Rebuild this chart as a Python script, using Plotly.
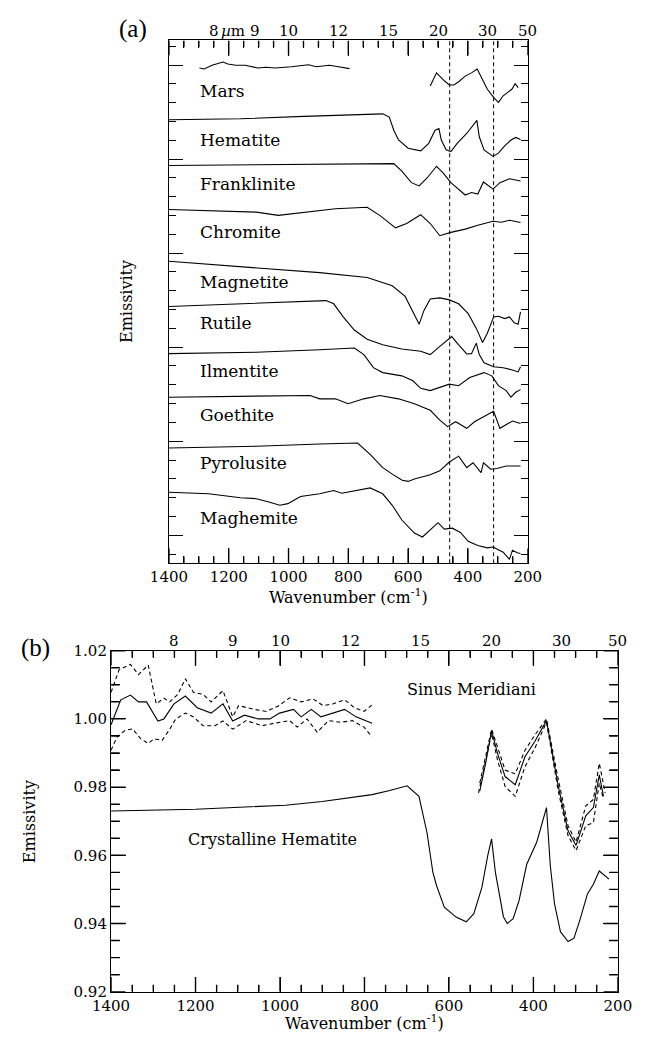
import numpy as np
import plotly.graph_objects as go

# ======================= DATA =======================
# ---- Panel (a): stacked spectra (arbitrary offset units; 0 = bottom of frame) ----
mars1_wn = [1298, 1282, 1256, 1219, 1203, 1177, 1145, 1118, 1103, 1076, 1044, 991, 949, 933, 907, 864, 833, 796]
mars1_v = [504, 503, 506.7, 510, 508, 506.7, 506.7, 505.3, 504, 504.7, 504, 505.3, 506.7, 507.3, 505.3, 506.7, 505.3, 503.3]
mars2_wn = [526, 505, 478, 462, 447, 431, 409, 388, 369, 356, 335, 314, 298, 282, 267, 253, 242, 232]
mars2_v = [485.7, 499, 490.7, 486.7, 486.7, 490, 495.7, 499, 503, 495.7, 482.3, 474, 469, 475.7, 479, 482.3, 488, 484]

hematite_wn = [1400, 1161, 949, 780, 685, 663, 648, 632, 600, 558, 531, 510, 497, 489, 473, 457, 436, 404, 370, 362, 346, 316, 298, 277, 256, 240, 224]
hematite_v = [451.3, 452.3, 454.7, 456.7, 457.3, 454, 440.7, 430.7, 422.3, 419.7, 427.3, 440.7, 442.3, 430.7, 420.7, 419, 427.3, 437.3, 450.7, 434, 420.7, 414, 417.3, 424.7, 430.7, 433.3, 431.3]

franklinite_wn = [1400, 1002, 790, 648, 621, 589, 563, 536, 505, 483, 457, 409, 388, 367, 348, 335, 316, 293, 261, 224]
franklinite_v = [404.7, 405.7, 406.7, 406.7, 399, 387.3, 384, 392.3, 404, 397.3, 387.3, 374.7, 377.3, 375.7, 388, 384.7, 380.7, 387.3, 391.3, 389]

chromite_wn = [1400, 1267, 1108, 1034, 949, 843, 737, 695, 642, 605, 558, 526, 494, 457, 409, 367, 316, 288, 261, 240, 224]
chromite_v = [360, 359, 357.3, 354, 356.7, 360.7, 362.3, 354, 341.3, 345.7, 354.7, 345.7, 333.3, 336.7, 340, 344, 348, 347, 349, 347.3, 346.7]

magnetite_wn = [1400, 1108, 896, 737, 653, 610, 584, 563, 547, 526, 494, 462, 431, 399, 372, 351, 335, 314, 298, 277, 261, 245, 232, 224]
magnetite_v = [307.3, 300.7, 295.7, 290.7, 282.3, 271.5, 255.7, 243.3, 257.3, 269, 270, 268, 264, 254, 239, 224.7, 234, 250.7, 251.3, 249, 250.7, 244.7, 243.3, 255.7]

rutile_wn = [1400, 1108, 875, 849, 817, 780, 737, 685, 621, 558, 526, 494, 454, 431, 404, 388, 372, 362, 346, 314, 282, 251, 232, 224]
rutile_v = [261.3, 264.7, 267.3, 264, 250.7, 237.3, 228, 222.3, 218, 215.7, 212.3, 220.7, 230.7, 222.3, 213, 213.3, 224, 212.3, 204, 200, 199, 196.7, 194.7, 200]

ilmenite_wn = [1400, 1108, 896, 780, 748, 716, 685, 621, 584, 558, 526, 494, 462, 431, 394, 346, 320, 298, 272, 256, 240, 224]
ilmenite_v = [213.3, 214.7, 217.3, 219, 212.3, 199, 194, 190.7, 185.7, 178, 175.7, 179, 182.3, 180.7, 189, 194, 190.7, 180.7, 175.7, 169, 174, 176.7]

goethite_wn = [1400, 1108, 928, 896, 843, 801, 748, 695, 632, 579, 526, 494, 468, 441, 404, 378, 346, 314, 293, 272, 251, 224]
goethite_v = [169, 170, 170.7, 167.3, 167.3, 162.3, 167.3, 170.7, 167.3, 162.3, 155.7, 145.7, 139, 144, 137.3, 144, 149, 154.7, 137.3, 140.7, 144.7, 142.3]

pyrolusite_wn = [1400, 1108, 896, 769, 727, 685, 653, 620, 600, 579, 526, 494, 462, 431, 404, 383, 356, 348, 324, 303, 272, 224]
pyrolusite_v = [117.3, 119, 121.3, 122.3, 110.7, 97.3, 90.7, 84.5, 83.3, 85.7, 90, 94, 103, 109, 97.3, 102.3, 92.3, 102.3, 95.7, 96.5, 99, 99]

maghemite_wn = [1400, 1320, 1267, 1161, 1108, 1066, 1029, 1002, 960, 896, 849, 822, 769, 727, 685, 653, 621, 579, 552, 526, 500, 479, 452, 425, 399, 367, 335, 316, 282, 261, 251, 235, 224]
maghemite_v = [72.3, 71.3, 70.7, 66.7, 65.7, 62.3, 59, 60.7, 68, 70.7, 74, 71.3, 74.7, 76.7, 70.7, 59, 44, 30.7, 26.7, 34, 41.3, 34.7, 35.7, 31.3, 22.3, 18, 15.7, 16.5, 11.3, 4, 13.3, 10.7, 10]

mineral_names = ["Mars", "Hematite", "Franklinite", "Chromite", "Magnetite",
                 "Rutile", "Ilmentite", "Goethite", "Pyrolusite", "Maghemite"]
mineral_label_v = [481, 431, 386, 337, 286, 244, 196, 151, 102, 46]
label_wn = 1302
band_lines_wn = [461, 314]

# ---- Panel (b): Sinus Meridiani (mean and +/- 1 sigma) and crystalline hematite ----
sm_l_mean_wn = [1400, 1377, 1354, 1335, 1316, 1289, 1275, 1251, 1224, 1196, 1163, 1135, 1112, 1084, 1052, 1024, 1001, 968, 950, 926, 903, 875, 847, 820, 782]
sm_l_mean = [0.9983, 1.0056, 1.007, 1.005, 1.005, 0.9994, 1.0, 1.0044, 1.0067, 1.0033, 1.0017, 1.0044, 0.9994, 1.0011, 1.0, 1.0, 1.0017, 1.0028, 1.0006, 1.0028, 1.0006, 1.0017, 1.0028, 1.0006, 0.9987]
sm_l_hi_wn = [1400, 1381, 1354, 1335, 1312, 1293, 1275, 1261, 1242, 1224, 1205, 1182, 1163, 1135, 1112, 1098, 1061, 1033, 1005, 977, 950, 922, 898, 875, 847, 824, 801, 782]
sm_l_hi = [1.0078, 1.0144, 1.0160, 1.0130, 1.0158, 1.0044, 1.0061, 1.005, 1.0072, 1.0118, 1.0078, 1.0072, 1.005, 1.0083, 1.0006, 1.0039, 1.0028, 1.0022, 1.0037, 1.0062, 1.005, 1.0059, 1.0039, 1.0044, 1.0056, 1.0033, 1.0022, 1.0041]
sm_l_lo_wn = [1400, 1386, 1367, 1349, 1330, 1312, 1298, 1279, 1261, 1247, 1224, 1205, 1182, 1154, 1135, 1112, 1080, 1042, 1015, 977, 959, 936, 912, 885, 857, 829, 801, 782]
sm_l_lo = [0.9908, 0.9947, 0.9966, 0.9971, 0.9942, 0.9928, 0.9942, 0.9937, 0.997, 1.0, 1.0017, 1.0006, 0.998, 0.998, 0.9994, 0.997, 0.9995, 0.998, 0.9987, 0.9995, 0.9976, 1.0, 0.9961, 0.9995, 0.999, 0.9995, 0.9976, 0.9947]

sm_r_mean_wn = [527, 513, 499, 485, 467, 443, 420, 397, 369, 341, 318, 299, 276, 258, 244, 234]
sm_r_mean = [0.9788, 0.987, 0.9966, 0.9899, 0.9831, 0.9807, 0.9889, 0.9933, 0.9995, 0.9802, 0.9672, 0.9629, 0.9716, 0.974, 0.9836, 0.9773]
sm_r_hi_wn = [527, 499, 485, 467, 443, 420, 397, 369, 341, 318, 299, 276, 258, 244, 230]
sm_r_hi = [0.9812, 0.997, 0.9918, 0.985, 0.9839, 0.9908, 0.9952, 1.0, 0.9822, 0.9687, 0.9639, 0.9745, 0.9764, 0.987, 0.9783]
sm_r_lo_wn = [530, 499, 485, 467, 443, 420, 397, 369, 341, 318, 299, 276, 258, 244, 234]
sm_r_lo = [0.9783, 0.9957, 0.988, 0.9802, 0.9773, 0.986, 0.9913, 0.999, 0.9788, 0.9658, 0.9614, 0.9687, 0.9696, 0.9812, 0.9764]

hem_b_wn = [1400, 1200, 987, 900, 782, 740, 699, 671, 652, 638, 629, 611, 583, 559, 541, 522, 508, 499, 490, 480, 471, 462, 448, 434, 416, 392, 369, 360, 350, 336, 318, 304, 290, 272, 258, 244, 230, 221]
hem_b_v = [0.973, 0.9735, 0.9747, 0.9758, 0.9778, 0.979, 0.9804, 0.9773, 0.9667, 0.955, 0.951, 0.9448, 0.9419, 0.9405, 0.9429, 0.9506, 0.96, 0.9648, 0.955, 0.9487, 0.942, 0.940, 0.9414, 0.9467, 0.9573, 0.9639, 0.974, 0.957, 0.9458, 0.9376, 0.9347, 0.9357, 0.941, 0.9487, 0.9515, 0.9554, 0.954, 0.953]

# Top axis: wavelength (micron) labels
top_um = [8, 9, 10, 12, 15, 20, 30, 50]

# Axis ticks
x_major = [1400, 1200, 1000, 800, 600, 400, 200]
x_minor_step = 50
y_b_major = [0.92, 0.94, 0.96, 0.98, 1.00, 1.02]
y_b_minor_step = 0.005

# ======================= FIGURE =======================
SERIF = "DejaVu Serif"
TIMES = "Liberation Serif"
BLACK = "#000000"
W, H = 648, 1042

# geometry (pixels)
ax_l, ax_r, ax_t, ax_b = 158, 536, 32, 564
bx_l, bx_r, bx_t, bx_b = 97, 631, 653, 1000
A_YR = [0, 532]
B_YR = [0.92, 1.02]
XR = [1400, 200]

fig = go.Figure()


def add_line(x, y, xa, ya, dash="solid", width=1.1):
    fig.add_trace(go.Scatter(x=x, y=y, mode="lines", xaxis=xa, yaxis=ya,
                             line=dict(color=BLACK, width=width, dash=dash),
                             hoverinfo="skip", showlegend=False, cliponaxis=False))


# panel (a)
for xs, ys in [(mars1_wn, mars1_v), (mars2_wn, mars2_v), (hematite_wn, hematite_v),
               (franklinite_wn, franklinite_v), (chromite_wn, chromite_v),
               (magnetite_wn, magnetite_v), (rutile_wn, rutile_v),
               (ilmenite_wn, ilmenite_v), (goethite_wn, goethite_v),
               (pyrolusite_wn, pyrolusite_v), (maghemite_wn, maghemite_v)]:
    add_line(xs, ys, "x", "y")

# panel (b)
DASH = "4px,3px"
add_line(sm_l_hi_wn, sm_l_hi, "x2", "y2", DASH)
add_line(sm_l_lo_wn, sm_l_lo, "x2", "y2", DASH)
add_line(sm_l_mean_wn, sm_l_mean, "x2", "y2")
add_line(sm_r_hi_wn, sm_r_hi, "x2", "y2", DASH)
add_line(sm_r_lo_wn, sm_r_lo, "x2", "y2", DASH)
add_line(sm_r_mean_wn, sm_r_mean, "x2", "y2")
add_line(hem_b_wn, hem_b_v, "x2", "y2")


# ---- tick marks, built from the tick lists as line traces ----
def x_tick_trace(xa, ya, yr, height_px):
    minor = [float(v) for v in np.arange(200, 1400.1, x_minor_step) if v not in x_major]
    span = yr[1] - yr[0]
    xs, ys = [], []
    for vals, length in [(x_major, 15), (minor, 7)]:
        d = length / height_px * span
        for v in vals:
            xs += [v, v, None, v, v, None]
            ys += [yr[0], yr[0] + d, None, yr[1] - d, yr[1], None]
    add_line(xs, ys, xa, ya, width=1.4)


def y_tick_trace(xa, ya, xr, width_px, major, step, lo, hi, maj_len, min_len):
    minor = [float(v) for v in np.arange(lo, hi + step / 2, step)
             if all(abs(v - m) > step / 10 for m in major)]
    span = xr[1] - xr[0]
    xs, ys = [], []
    for vals, length in [(major, maj_len), (minor, min_len)]:
        d = length / width_px * span
        for v in vals:
            xs += [xr[0], xr[0] + d, None, xr[1] - d, xr[1], None]
            ys += [v, v, None, v, v, None]
    add_line(xs, ys, xa, ya, width=1.4)


x_tick_trace("x", "y", A_YR, ax_b - ax_t)
x_tick_trace("x2", "y2", B_YR, bx_b - bx_t)
y_tick_trace("x2", "y2", XR, bx_r - bx_l, y_b_major, y_b_minor_step, 0.92, 1.02, 15, 9)

shapes = []
# dashed band lines in (a)
for wn in band_lines_wn:
    shapes.append(dict(type="line", xref="x", yref="y domain", x0=wn, x1=wn, y0=0, y1=1,
                       line=dict(color=BLACK, width=1, dash="4px,3px")))

tickfont = dict(family=SERIF, size=15, color=BLACK)


def xaxis_cfg(dom, anchor):
    return dict(domain=dom, anchor=anchor, range=XR, tickmode="linear", tick0=200,
                dtick=200, ticks="inside", ticklen=15, tickwidth=1.2, tickcolor=BLACK,
                showline=True, linecolor=BLACK, linewidth=1.2, mirror="allticks",
                showgrid=False, zeroline=False, tickfont=tickfont,
                minor=dict(ticks="inside", ticklen=7, dtick=50, tick0=0,
                           tickcolor=BLACK, showgrid=False))


fig.update_layout(
    width=W, height=H, margin=dict(l=0, r=0, t=0, b=0), autosize=False,
    paper_bgcolor="white", plot_bgcolor="white", showlegend=False,
    xaxis=xaxis_cfg([ax_l / W, ax_r / W], "y"),
    yaxis=dict(domain=[1 - ax_b / H, 1 - ax_t / H], anchor="x", range=A_YR,
               showticklabels=False, tickmode="linear", ticks="inside", tick0=28.5,
               dtick=95.7, ticklen=14, tickwidth=1.2, tickcolor=BLACK, showline=True,
               linecolor=BLACK, linewidth=1.2, mirror="allticks", showgrid=False,
               zeroline=False,
               minor=dict(ticks="inside", ticklen=7, dtick=19.14, tick0=9.36,
                          tickcolor=BLACK, showgrid=False)),
    xaxis2=xaxis_cfg([bx_l / W, bx_r / W], "y2"),
    yaxis2=dict(domain=[1 - bx_b / H, 1 - bx_t / H], anchor="x2", range=B_YR,
                tickmode="linear", tick0=0.92, dtick=0.02, tickformat=".2f",
                ticks="inside", ticklen=15, tickwidth=1.2, tickcolor=BLACK,
                showline=True, linecolor=BLACK, linewidth=1.2, mirror="allticks",
                showgrid=False, zeroline=False, tickfont=tickfont,
                minor=dict(ticks="inside", ticklen=9, dtick=0.005, tick0=0.92,
                           tickcolor=BLACK, showgrid=False)),
    shapes=shapes,
)

C = dict(xanchor="center", yanchor="middle", showarrow=False)
ann = []
# top (micron) axis labels
for um in top_um:
    ann.append(dict(text=str(um), x=10000.0 / um, y=1 - 22 / H, xref="x", yref="paper",
                    font=tickfont, **C))
    ann.append(dict(text=str(um), x=10000.0 / um, y=1 - 643 / H, xref="x2", yref="paper",
                    font=tickfont, **C))
# micron unit in (a)
ann.append(dict(text="<i>µ</i>m", x=1186, y=1 - 22 / H, xref="x", yref="paper",
                font=dict(family=SERIF, size=15, color=BLACK), **C))
# panel letters
ann.append(dict(text="(a)", x=120 / W, y=1 - 20 / H, xref="paper", yref="paper",
                font=dict(family=TIMES, size=25, color=BLACK), **C))
ann.append(dict(text="(b)", x=17 / W, y=1 - 650 / H, xref="paper", yref="paper",
                font=dict(family=TIMES, size=25, color=BLACK), **C))
# axis titles
ann.append(dict(text="Wavenumber (cm<sup>-1</sup>)", x=(ax_l + ax_r) / 2 / W, y=1 - 598 / H,
                xref="paper", yref="paper", font=dict(family=SERIF, size=16, color=BLACK), **C))
ann.append(dict(text="Wavenumber (cm<sup>-1</sup>)", x=(bx_l + bx_r) / 2 / W, y=1 - 1031 / H,
                xref="paper", yref="paper", font=dict(family=SERIF, size=16, color=BLACK), **C))
ann.append(dict(text="Emissivity", x=114 / W, y=1 - 298 / H, xref="paper", yref="paper",
                textangle=-90, font=dict(family=SERIF, size=16, color=BLACK), **C))
ann.append(dict(text="Emissivity", x=11 / W, y=1 - 827 / H, xref="paper", yref="paper",
                textangle=-90, font=dict(family=SERIF, size=16, color=BLACK), **C))
# mineral labels
for name, v in zip(mineral_names, mineral_label_v):
    ann.append(dict(text=name, x=label_wn, y=v, xref="x", yref="y", xanchor="left",
                    yanchor="middle", showarrow=False,
                    font=dict(family=SERIF, size=17, color=BLACK)))
# panel (b) labels
ann.append(dict(text="Sinus Meridiani", x=705, y=1.0085, xref="x2", yref="y2",
                xanchor="left", yanchor="middle", showarrow=False,
                font=dict(family=SERIF, size=16, color=BLACK)))
ann.append(dict(text="Crystalline Hematite", x=1222, y=0.9645, xref="x2", yref="y2",
                xanchor="left", yanchor="middle", showarrow=False,
                font=dict(family=SERIF, size=16, color=BLACK)))

fig.update_layout(annotations=ann)
fig.write_html("out.html")
